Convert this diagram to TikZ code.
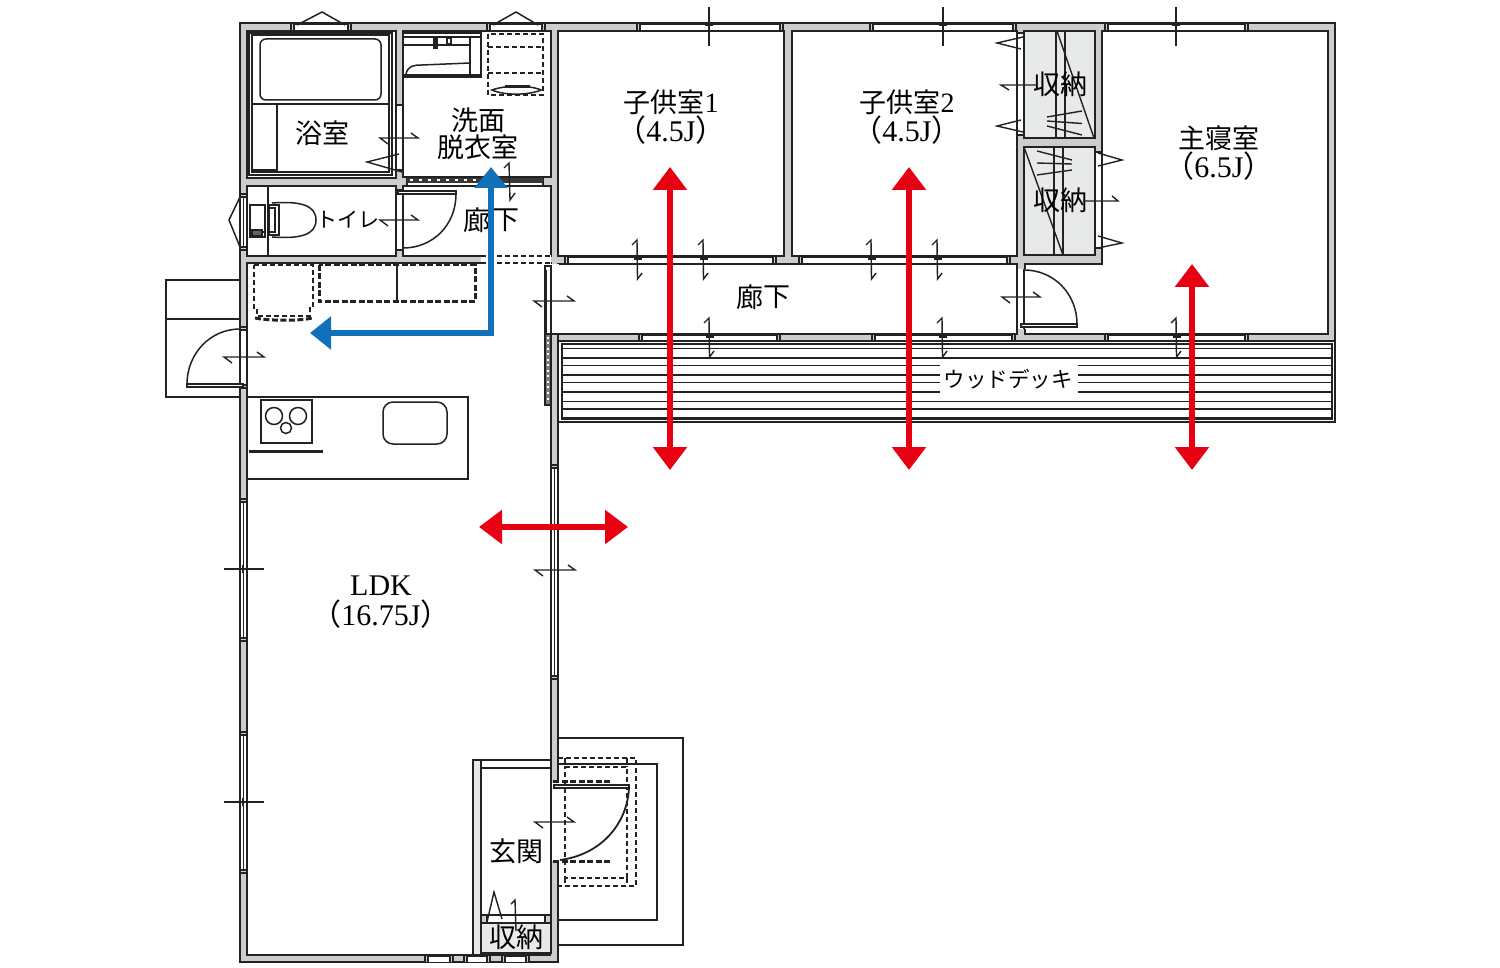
\documentclass[tikz,border=0pt]{standalone}
\usepackage{fontspec}
\setmainfont{Liberation Serif}
\newfontfamily\jp{Noto Sans CJK JP}
\usetikzlibrary{arrows.meta}
\definecolor{wallgray}{HTML}{CCCECE}
\definecolor{ink}{HTML}{222222}
\definecolor{closetfill}{HTML}{E8EAEA}
\definecolor{redarrow}{HTML}{E60012}
\definecolor{bluearrow}{HTML}{1170BA}
\tikzset{
  wl/.style={draw=ink,line width=1.5pt,line join=miter},
  thin line/.style={draw=ink,line width=1.4pt,line join=miter},
  thick line/.style={draw=ink,line width=3pt},
  deck thin/.style={draw=ink,line width=1pt},
  deck thick/.style={draw=ink,line width=2pt},
  dash line/.style={draw=ink,line width=1.5pt,dash pattern=on 5pt off 3pt},
  dash thick/.style={draw=ink,line width=3pt,dash pattern=on 6pt off 2.5pt},
  label/.style={text=black,inner sep=0pt,align=center,font=\fontsize{27}{28}\selectfont\jp},
  labelb/.style={label,font=\fontsize{30}{30}\selectfont},
  redarr/.style={draw=redarrow,line width=6pt,{Triangle[width=33pt,length=23pt]}-{Triangle[width=33pt,length=23pt]}},
  bluearr/.style={draw=bluearrow,line width=5.5pt,line join=miter},
}
% horizontal window
\newcommand{\winh}[3]{%
  \fill[white] (#1,#3) rectangle (#2,#3+7.5);
  \draw[wl] (#1,#3) rectangle (#2,#3+7.5);
  \draw[draw=ink,line width=2.4pt] (#1,#3+.5) -- (#2,#3+.5);
  \draw[wl,fill=wallgray] (#1-3,#3) rectangle (#1,#3+7.5);
  \draw[wl,fill=wallgray] (#2,#3) rectangle (#2+3,#3+7.5);
}
% vertical window
\newcommand{\winv}[3]{%
  \fill[white] (#3,#1) rectangle (#3+7,#2);
  \draw[wl] (#3,#1) rectangle (#3+7,#2);
  \draw[thin line] (#3+3.5,#1) -- (#3+3.5,#2);
  \draw[wl,fill=wallgray] (#3,#1-3) rectangle (#3+7,#1);
  \draw[wl,fill=wallgray] (#3,#2) rectangle (#3+7,#2+3);
}
% door symbol, horizontal
\newcommand{\hsym}[3]{\draw[thin line] (#1+8,#3+6) -- (#1,#3) -- (#2,#3) -- (#2-7,#3-5);}
% door symbol, vertical with cross tick
\newcommand{\vsym}[3]{%
  \draw[thin line] (#1-5,#2+5) -- (#1,#2) -- (#1+.5,#3) -- (#1+5,#3-6);
  \draw[thin line] (#1-3.5,#2+19) -- (#1+4.5,#2+19);
}
% window cross tick
\newcommand{\crosstick}[3]{\draw[thin line] (#1,#2) -- (#1,#2+39) (#1-4,#3) -- (#1+4,#3);}
\begin{document}
\begin{tikzpicture}[x=1pt,y=-1pt]
\useasboundingbox (0,0) rectangle (1500,968);
\fill[white] (0,0) rectangle (1500,968);

% --- outside step and porch (behind the walls)
\draw[wl] (240,280) -- (166,280) -- (166,397) -- (240,397);
\draw[wl] (166,319) -- (240,319);
\draw[wl] (558,738) -- (683,738) -- (683,945) -- (558,945);
\draw[wl] (558,764) -- (657,764) -- (657,920) -- (558,920);
\draw[dash line] (558,758) -- (636,758) -- (636,886) -- (558,886);
\draw[dash line] (565,767) -- (627,767) -- (627,878) -- (565,878) -- cycle;
\draw[dash line] (565,758) -- (565,767) (627,758) -- (627,767) (565,878) -- (565,886) (627,878) -- (627,886);

% --- walls
\draw[wl,fill=wallgray] (240,23) -- (1335,23) -- (1335,341) -- (558,341) -- (558,962) -- (240,962) -- cycle;

% --- rooms
\draw[wl,fill=white] (247,31) rectangle (396,178);
\draw[wl,fill=white] (403,31) rectangle (551,177);
\draw[wl,fill=white] (247,186) rectangle (396,256);
\draw[wl,fill=white] (403,186) rectangle (551,256);
\draw[wl,fill=white] (247,263) -- (551,263) -- (551,760) -- (473,760) -- (473,955) -- (247,955) -- cycle;
\draw[wl,fill=white] (558,31) rectangle (784,256);
\draw[wl,fill=white] (792,31) rectangle (1017,256);
\draw[wl,fill=white] (558,264) rectangle (1017,334);
\draw[wl,fill=white] (1102,31) -- (1328,31) -- (1328,334) -- (1025,334) -- (1025,264) -- (1102,264) -- cycle;
\draw[wl,fill=closetfill] (1024,31) rectangle (1095,138);
\draw[wl,fill=closetfill] (1024,147) rectangle (1095,255);

% --- opening between upper corridor and LDK
\fill[white] (481,255) rectangle (551,264);
\draw[dash line] (481,256) -- (551,256) (481,263) -- (551,263);
% opening from LDK to lower corridor and pocket door
\fill[white] (550,263.8) rectangle (559,333.5);
\draw[wl,fill=white] (545,266) rectangle (551,405);
\draw[draw=ink,line width=2.2pt] (546,270) -- (546,334);
\draw[wl,fill=wallgray!60!black] (545,334) rectangle (551,405);
\draw[white,line width=2pt,dash pattern=on 2pt off 3.5pt] (548,337) -- (548,403);
\draw[wl,fill=wallgray] (551,334) rectangle (558,468);

% --- entrance
\draw[wl,fill=closetfill] (473,760) rectangle (481,955);
\draw[wl,fill=white] (481,760) rectangle (551,768);
\draw[wl,fill=white] (481,768) rectangle (551,915);
\draw[wl,fill=white] (481,915) rectangle (551,923);
\draw[wl,fill=wallgray] (481,915) rectangle (487,923);
\draw[wl,fill=wallgray] (545,915) rectangle (551,923);
\draw[wl,fill=closetfill] (481,923) rectangle (551,953);
\draw[wl] (473,955) -- (551,955);

% --- windows
\winh{294}{348}{23}
\winh{490}{542}{23}
\winh{640}{780}{23}
\winh{873}{1013}{23}
\winh{1108}{1245}{23}
\winh{568}{773}{256}
\winh{802}{1007}{256}
\winh{642}{777}{334}
\winh{875}{1012}{334}
\winh{1108}{1245}{334}
\winh{428}{450}{955}
\winh{467}{487}{955}
\winh{505}{526}{955}
\winv{502}{638}{240}
\winv{735}{870}{240}
\winv{468}{676}{551}
\winv{197}{247}{240}
% window hoods
\draw[wl] (297,25) -- (322,12) -- (345,25);
\draw[wl] (493,25) -- (516,12) -- (538,25);
\draw[wl] (240,197) -- (229,220) -- (240,247);

% --- door openings
\fill[white] (240.7,330) rectangle (247.5,385);
\draw[wl] (240,330) -- (240,385) (247,330) -- (247,385);
\draw[wl,fill=wallgray] (240,327) rectangle (247,330);
\draw[wl,fill=wallgray] (240,385) rectangle (247,388);
\draw[wl,fill=white] (187,384) rectangle (243,387);
\draw[wl] (240,329) .. controls (210,329) and (187,354) .. (187,384);

\draw[wl,fill=white] (396,105) rectangle (403,170);
\draw[wl,fill=white] (396,190) rectangle (403,250);
\draw[wl,fill=white] (398,191) rectangle (456,194);
\draw[wl] (456,194) .. controls (456,225) and (433,248) .. (403,248);

\fill[white] (1016.5,269) rectangle (1025.5,329);
\draw[wl] (1017,269) -- (1017,329) (1024,269) -- (1024,329);
\draw[wl,fill=white] (1021,324) rectangle (1077,327);
\draw[wl] (1024,270) .. controls (1054,270) and (1077,294) .. (1077,324);

\draw[wl,fill=white] (1017,33) rectangle (1024,135);
\draw[wl,fill=white] (1095,152) rectangle (1102,248);

% --- washroom door strip
\draw[wl,fill=white] (407,177) rectangle (543,186);
\fill[ink!90] (407,178) rectangle (543,183);
\draw[white,line width=2pt,dash pattern=on 3pt off 6pt] (410,180.5) -- (478,180.5);

% --- entrance door
\fill[white] (550.5,783) rectangle (558.5,861);
\draw[wl] (551,783) -- (551,861);
\draw[wl,fill=white] (554,785) rectangle (629,788);
\draw[draw=ink,line width=1.8pt] (629,788) .. controls (627,826) and (599,855) .. (560,860);
\draw[dash thick] (553,781) -- (612,781);
\draw[dash thick] (553,861) -- (612,861);

% --- bathroom
\draw[wl] (249,33) rectangle (392,175);
\draw[wl] (252,35) rectangle (389,172);
\draw[wl,rounded corners=6pt] (260,39) rectangle (381,100);
\draw[wl] (252,104) -- (389,104);
\draw[wl] (277,104) -- (277,172);
\draw[thick line] (252,171) -- (277,171);

% --- washroom
\draw[wl] (403,31) rectangle (481,77);
\draw[draw=ink,line width=3pt] (403,33) -- (481,33);
\draw[wl] (403,37) -- (481,37) (403,45) -- (470,45);
\draw[wl] (470,37) -- (470,75) (403,75) -- (481,75);
\draw[wl] (406,74) .. controls (408,66) and (413,65) .. (422,65) -- (470,63);
\draw[wl,fill=ink] (434,37) rectangle (437,48);
\draw[wl,fill=white] (447,38) rectangle (451,44);
\draw[dash line] (488,34) rectangle (543,95);
\draw[dash line] (488,47) -- (543,47) (488,73) -- (543,73);
\draw[wl,fill=white] (492,90) .. controls (505,85) and (530,85) .. (541,90) .. controls (530,95) and (505,96) .. (492,90) -- cycle;
\draw[thick line] (505,87) -- (530,87);

% --- toilet
\draw[wl,fill=white] (247,186) rectangle (268,256);
\draw[wl] (250,205) rectangle (265,237);
\draw[draw=ink,line width=2pt] (250,232) -- (265,232);
\draw[wl,fill=ink!70] (252,230) rectangle (262,236);
\draw[wl] (272,203) .. controls (300,201) and (316,205) .. (316,220) .. controls (316,235) and (300,239) .. (272,237);
\draw[wl] (269,205) rectangle (279,235);
\draw[wl] (269,208) -- (275,208) -- (275,232) -- (269,232);

% --- kitchen
\draw[dash line] (254,265) -- (313,265) -- (313,308) -- (310,308) -- (310,316) -- (257,316) -- (257,308) -- (254,308) -- cycle;
\draw[dash thick] (255,318) .. controls (270,321) and (300,321) .. (312,318);
\draw[dash thick] (319,265) rectangle (475,302);
\draw[wl] (397,265) -- (397,302);
\draw[wl] (247,397) -- (468,397) -- (468,479) -- (247,479);
\draw[wl] (261,400) rectangle (312,443);
\draw[wl] (274,416) circle[radius=8.5pt];
\draw[wl] (298,416) circle[radius=8.5pt];
\draw[wl] (286,428) circle[radius=5.5pt];
\draw[wl,rounded corners=10pt] (383,402) rectangle (447,444);
\draw[thick line] (249,451) -- (323,451);

% --- deck
\draw[wl,fill=white] (558,341) rectangle (1335,422);
\draw[wl] (562,344) rectangle (1332,419);
\draw[deck thin] (562,349) -- (1332,349);
\draw[deck thick] (562,358) -- (1332,358);
\draw[deck thin] (562,366) -- (1332,366);
\draw[deck thick] (562,375) -- (1332,375);
\draw[deck thin] (562,383) -- (1332,383);
\draw[deck thick] (562,392) -- (1332,392);
\draw[deck thin] (562,401) -- (1332,401);
\draw[deck thick] (562,409) -- (1332,409);
\draw[draw=ink,line width=3pt] (562,418) -- (1332,418);
\fill[white] (940,363.5) rectangle (1078,396);

% --- closet interiors
\draw[wl] (1056,31) -- (1056,138) (1065,31) -- (1065,138);
\draw[thin line] (1057,31) -- (1094,138);
\draw[thin line] (1047,117) -- (1082,111) (1047,121) -- (1082,123.5) (1047,126) -- (1082,135);
\draw[wl] (1054,147) -- (1054,255) (1063,147) -- (1063,255);
\draw[thin line] (1024,147) -- (1063,255);
\draw[thin line] (1037,151) -- (1072,160) (1037,163) -- (1072,164) (1037,175) -- (1072,170);

% --- labels
\node[label] (bath) at (322,133) {浴室};
\node[label] (wash) at (478,133.5) {洗面\\[-1pt]脱衣室};
\node[label,font=\fontsize{21}{21}\selectfont\jp] (wc) at (348,220) {トイレ};
\node[label] (hall1a) at (477,220) {廊};
\node[label] (hall1b) at (506,220) {下};
\node[label] (hall2a) at (750,297) {廊};
\node[label] (hall2b) at (777,297) {下};
\node[label] (kid1) at (671,102) {子供室{\rmfamily\fontsize{28}{28}\selectfont 1}};
\node[labelb] (kid1s) at (671,130) {{\jp （}4.5J{\jp ）}};
\node[label] (kid2) at (907,102) {子供室{\rmfamily\fontsize{28}{28}\selectfont 2}};
\node[labelb] (kid2s) at (907,130) {{\jp （}4.5J{\jp ）}};
\node[label] (cl1) at (1060,84) {収納};
\node[label] (cl2) at (1060,200) {収納};
\node[label] (master) at (1219,138) {主寝室};
\node[labelb] (masters) at (1219,166) {{\jp （}6.5J{\jp ）}};
\node[label,font=\fontsize{21.5}{22}\selectfont\jp] (deck) at (1008,379) {ウッドデッキ};
\node[labelb] (ldk) at (381,586) {LDK};
\node[labelb] (ldks) at (381,614) {{\jp （}16.75J{\jp ）}};
\node[label] (ent) at (516,851) {玄関};
\node[label] (cl3) at (516,937) {収納};

% --- door symbols
\hsym{224}{264}{357}
\hsym{534}{574}{301}
\hsym{380}{418}{220}
\hsym{380}{418}{138}
\hsym{535}{575}{570}
\hsym{535}{574}{822}
\hsym{1002}{1040}{297}
\draw[thin line] (1009,90) -- (1001,85) -- (1038,85);
\draw[thin line] (1083,201) -- (1118,201) -- (1112,196);
\draw[thin line] (504,168) -- (509,163) -- (510,200) -- (515,193);
\draw[thin line] (399,154) -- (367,162) -- (402,172);
\draw[thin line] (1023,37) -- (997,43) -- (1021,49);
\draw[thin line] (1021,120) -- (997,126) -- (1023,132);
\draw[thin line] (1098,153) -- (1122,160) -- (1098,166);
\draw[thin line] (1098,236) -- (1122,243) -- (1098,248);
\draw[thin line] (487,922) -- (494,892) -- (502,919);
\draw[thin line] (511,904) -- (515,900) -- (516,931);
\crosstick{709}{7}{25}
\crosstick{943}{7}{25}
\crosstick{1176}{7}{25}
\draw[thin line] (224,569) -- (264,569) (243,565) -- (243,573);
\draw[thin line] (224,802) -- (264,802) (243,798) -- (243,806);
\vsym{637}{240}{279}
\vsym{703}{240}{279}
\vsym{871}{240}{279}
\vsym{937}{240}{279}
\vsym{709}{318}{357}
\vsym{942}{318}{357}
\vsym{1176}{318}{357}

% --- arrows
\coordinate (r1t) at (670,167); \coordinate (r1b) at (670,470);
\coordinate (r2t) at (909,167); \coordinate (r2b) at (909,470);
\coordinate (r3t) at (1192,264); \coordinate (r3b) at (1192,470);
\coordinate (r4l) at (479,527); \coordinate (r4r) at (628,527);
\coordinate (bs) at (491,167); \coordinate (bc) at (491,333); \coordinate (be) at (310,333);
\draw[redarr] (r1t) -- (r1b);
\draw[redarr] (r2t) -- (r2b);
\draw[redarr] (r3t) -- (r3b);
\draw[redarr] (r4l) -- (r4r);
\draw[bluearr,{Triangle[width=32pt,length=21pt]}-{Triangle[width=32pt,length=21pt]}] (bs) -- (bc) -- (be);
\end{tikzpicture}
\end{document}
